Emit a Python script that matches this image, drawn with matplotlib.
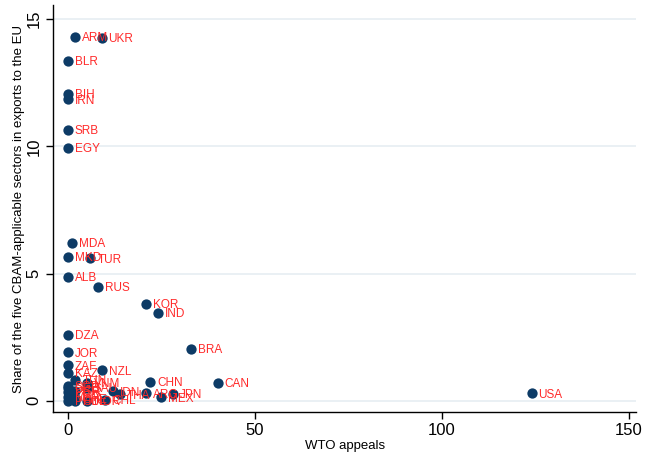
import matplotlib
matplotlib.use("Agg")
import matplotlib.pyplot as plt

plt.rcParams['font.family'] = ['Liberation Sans', 'DejaVu Sans']

countries = ["ARM", "UKR", "BLR", "BIH", "IRN", "SRB", "EGY", "MDA", "MKD", "TUR",
             "ALB", "RUS", "KOR", "IND", "DZA", "BRA", "JOR", "ZAF", "KAZ", "NZL",
             "TUN", "CHN", "CAN", "VNM", "SGP", "GEO", "SAU", "IDN", "PER", "ISR",
             "THA", "ARG", "JPN", "MEX", "USA", "CHL", "MAR", "CHE", "NOR", "PHL", "COL"]
wto_appeals = [2, 9, 0, 0, 0, 0, 0, 1, 0, 6,
               0, 8, 21, 24, 0, 33, 0, 0, 0, 9,
               2, 22, 40, 5, 0, 0, 5, 12, 0, 2,
               14, 21, 28, 25, 124, 10, 0, 2, 5, 0, 2]
cbam_share = [14.3, 14.25, 13.35, 12.05, 11.85, 10.65, 9.95, 6.2, 5.65, 5.6,
              4.88, 4.48, 3.8, 3.45, 2.6, 2.05, 1.9, 1.4, 1.1, 1.2,
              0.83, 0.75, 0.7, 0.7, 0.6, 0.5, 0.5, 0.38, 0.35, 0.4,
              0.25, 0.3, 0.27, 0.14, 0.3, 0.05, 0.15, 0.1, 0.0, 0.0, 0.0]
y_ticks = [0, 5, 10, 15]
x_ticks = [0, 50, 100, 150]

fig = plt.figure(figsize=(6.46, 4.55), dpi=100)
ax = fig.add_axes([0.082, 0.0945, 0.903, 0.8945])

ax.set_xlim(-4, 152)
ax.set_ylim(-0.44, 15.55)

for yv in y_ticks:
    ax.axhline(yv, color="#e6eef2", lw=1.2, zorder=0)

ax.scatter(wto_appeals, cbam_share, s=55, color="#0d3b66", zorder=3, linewidths=0)
for name, xv, yv in zip(countries, wto_appeals, cbam_share):
    ax.annotate(name, (xv, yv), xytext=(5, -1), textcoords="offset points",
                color="#ff2a2a", fontsize=8.5, va="center", ha="left", zorder=4)

ax.spines["top"].set_visible(False)
ax.spines["right"].set_visible(False)
ax.spines["left"].set_linewidth(1.0)
ax.spines["bottom"].set_linewidth(1.0)

ax.set_xticks(x_ticks)
ax.set_yticks(y_ticks)
ax.tick_params(axis="both", direction="out", length=5, width=1, labelsize=12, pad=3)
for lbl in ax.get_yticklabels():
    lbl.set_rotation(90)
    lbl.set_va("center")

ax.set_xlabel("WTO appeals", fontsize=9.5, labelpad=1)
ax.set_ylabel("Share of the five CBAM-applicable sectors in exports to the EU",
              fontsize=9.5, labelpad=1)

fig.savefig("out.png", dpi=100, facecolor="white")
